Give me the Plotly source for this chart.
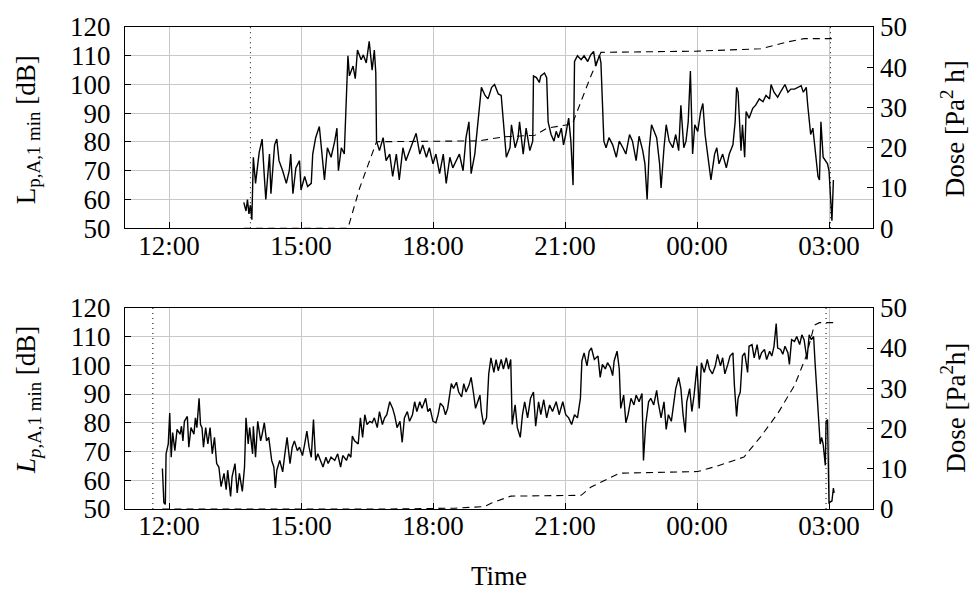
import plotly.graph_objects as go
from datetime import datetime

# ---------------- data ----------------
x_ticks = ["12:00", "15:00", "18:00", "21:00", "00:00", "03:00"]
x_range = ["11:00", "04:00"]
left_ticks = [50, 60, 70, 80, 90, 100, 110, 120]
right_ticks = [0, 10, 20, 30, 40, 50]

top_time = ["13:42","13:45","13:47","13:49","13:51","13:53","13:55","13:58","14:03","14:07",
            "14:10","14:12","14:17","14:19","14:24","14:27","14:30","14:35","14:40","14:44",
            "14:46","14:49","14:53","14:58","15:00","15:05","15:09","15:14","15:16","15:20",
            "15:25","15:29","15:32","15:36","15:41","15:46","15:49","15:51","15:55","15:59",
            "16:00","16:02","16:04","16:06","16:11","16:14","16:17","16:22","16:25","16:29",
            "16:33","16:37","16:40","16:42","16:43","16:47","16:52","16:56","17:01","17:05",
            "17:10","17:14","17:19","17:23","17:28","17:33","17:37","17:42","17:46","17:51",
            "17:55","18:00","18:04","18:09","18:14","18:18","18:23","18:27","18:32","18:36",
            "18:41","18:45","18:49","18:52","18:57","19:00","19:03","19:06","19:11","19:15",
            "19:20","19:24","19:29","19:33","19:36","19:40","19:45","19:47","19:52","19:56",
            "19:58","20:03","20:07","20:12","20:16","20:17","20:21","20:25","20:27","20:32",
            "20:35","20:37","20:41","20:45","20:48","20:51","20:55","20:58","21:01","21:05",
            "21:08","21:11","21:13","21:17","21:22","21:26","21:31","21:35","21:39","21:42",
            "21:47","21:49","21:53","21:56","22:00","22:05","22:10","22:14","22:19","22:23",
            "22:28","22:32","22:37","22:41","22:46","22:49","22:52","22:55","22:58","23:02",
            "23:05","23:09","23:11","23:15","23:18","23:22","23:27","23:31","23:35","23:38",
            "23:42","23:45","23:48","23:51","23:54","23:57","00:01","00:05","00:08","00:11",
            "00:15","00:19","00:24","00:27","00:30","00:35","00:40","00:44","00:49","00:52",
            "00:54","00:56","01:00","01:02","01:05","01:07","01:11","01:16","01:20","01:25",
            "01:30","01:34","01:39","01:41","01:45","01:50","01:55","02:00","02:04","02:08",
            "02:13","02:17","02:22","02:25","02:29","02:31","02:35","02:38","02:41","02:45",
            "02:47","02:49","02:52","02:55","02:58","03:00","03:03","03:04","03:06"]
top_level = [59, 56, 60, 55, 58, 53, 74.7, 65.6, 76.4, 81,
             68, 60, 75.8, 62, 79, 81, 73.5, 70, 65.6, 70,
             75.8, 62, 71, 73.5, 63.3, 68, 64.5, 65.6, 75.8, 81.5,
             85.4, 73.5, 66.8, 78, 74.7, 80.3, 84.8, 70, 78, 75.8,
             83.7, 92, 110, 103, 106.4, 102, 112, 108.6, 110.3, 107.5,
             115, 105, 112, 104, 80.3, 77, 81.5, 73.5, 75.8, 68,
             75.8, 66.8, 78, 73.5, 77, 80.3, 83, 75.8, 79, 74.7,
             78, 72.4, 75.8, 69, 75.8, 65.6, 74.7, 71, 73.5, 75.8,
             70, 81.5, 87, 69, 75.8, 83.7, 89.4, 99, 96.2, 95,
             99, 100, 96.7, 96.2, 87, 74.7, 78, 86, 78, 81.5,
             87, 75.8, 84.8, 77, 80.3, 103, 102.4, 100.7, 103, 104,
             102.4, 87, 82.6, 80.3, 83.7, 81.5, 84.8, 79, 82.6, 88.3,
             80.3, 65, 108, 110, 108.6, 110, 108, 110.3, 111.5, 106.4,
             110.3, 107.5, 80.3, 78, 81.5, 79, 74.7, 80.3, 78, 75.8,
             82.6, 80.3, 73.5, 82, 77, 72.4, 60, 78, 86, 83.7,
             81.5, 72.4, 64, 78, 86, 80.3, 78, 82.6, 77, 92.8,
             78, 80.3, 87, 104.7, 75.8, 86, 83.7, 90.6, 93.4, 82.6,
             74.7, 66.8, 75.8, 78, 72.4, 75.8, 71, 75.8, 79, 87,
             99, 97.3, 77, 86, 74.7, 90.6, 88.3, 91.7, 92.8, 95,
             94, 96.2, 95, 100, 97.3, 95.6, 97.9, 100, 97.3, 98.4,
             98.4, 99, 99.6, 97.3, 99, 92.8, 82.6, 84.8, 77, 68,
             66.8, 87, 74.7, 73.5, 72.4, 70, 53, 52.6, 66.8]

top_dose_time = ["13:42","16:04","16:20","16:43","19:02","19:36","20:19","20:36",
                 "21:10","21:35","21:49","00:00","01:27","02:04","02:26","03:06"]
top_dose = [0, 0, 10, 21.5, 21.7, 22.7, 23.1, 24.9,
            25.9, 37.7, 43.7, 44.0, 44.6, 46.3, 47.1, 47.1]

bot_time = ["11:51","11:53","11:55","11:56","11:59","12:01","12:03","12:05","12:08","12:11",
            "12:15","12:17","12:19","12:21","12:25","12:27","12:30","12:34","12:36","12:38",
            "12:41","12:43","12:45","12:47","12:50","12:53","12:56","12:59","13:02","13:05",
            "13:08","13:11","13:15","13:18","13:20","13:24","13:26","13:30","13:33","13:36",
            "13:40","13:43","13:45","13:48","13:50","13:54","13:55","13:58","14:01","14:05",
            "14:07","14:10","14:13","14:16","14:20","14:23","14:25","14:27","14:31","14:35",
            "14:38","14:41","14:45","14:48","14:51","14:55","14:58","15:02","15:05","15:08",
            "15:11","15:14","15:17","15:20","15:23","15:26","15:30","15:34","15:37","15:41",
            "15:46","15:50","15:54","15:57","16:02","16:05","16:08","16:10","16:13","16:18",
            "16:21","16:24","16:27","16:30","16:34","16:37","16:40","16:44","16:47","16:51",
            "16:54","16:57","17:01","17:05","17:08","17:11","17:15","17:18","17:21","17:25",
            "17:28","17:32","17:35","17:38","17:42","17:45","17:50","17:53","17:56","18:00",
            "18:04","18:07","18:10","18:14","18:17","18:20","18:25","18:28","18:32","18:35",
            "18:39","18:42","18:45","18:49","18:52","18:55","18:58","19:01","19:04","19:06",
            "19:09","19:13","19:16","19:19","19:23","19:26","19:29","19:33","19:36","19:40",
            "19:43","19:46","19:48","19:52","19:55","19:59","20:02","20:05","20:09","20:13",
            "20:17","20:20","20:24","20:27","20:31","20:35","20:39","20:43","20:48","20:52",
            "20:57","21:01","21:05","21:09","21:13","21:17","21:21","21:23","21:26","21:30",
            "21:33","21:36","21:40","21:45","21:48","21:51","21:55","21:58","22:02","22:05",
            "22:07","22:11","22:14","22:16","22:20","22:23","22:26","22:30","22:34","22:37",
            "22:41","22:45","22:47","22:50","22:54","22:57","23:01","23:05","23:07","23:11",
            "23:15","23:18","23:21","23:25","23:28","23:31","23:35","23:38","23:41","23:44",
            "23:46","23:50","23:53","23:56","00:00","00:03","00:06","00:10","00:14","00:17",
            "00:21","00:25","00:28","00:32","00:35","00:38","00:42","00:45","00:49","00:51",
            "00:54","00:56","00:59","01:02","01:05","01:09","01:11","01:15","01:18","01:22",
            "01:25","01:28","01:32","01:35","01:39","01:42","01:45","01:48","01:50","01:54",
            "01:57","02:00","02:04","02:06","02:09","02:13","02:16","02:20","02:23","02:26",
            "02:30","02:33","02:36","02:39","02:41","02:45","02:48","02:50","02:52","02:55",
            "02:56","02:58","03:00","03:04","03:06","03:07"]
bot_level = [64.1, 52.2, 51.6, 69.2, 72.6, 83.4, 68, 76.6, 70.3, 77.7,
             76, 78.8, 73.7, 80.5, 82.2, 71.5, 78.3, 76, 81.7, 78.3,
             88.5, 79.4, 78.3, 71.5, 78.3, 72.6, 78.3, 69.2, 74.9, 65.8,
             64.6, 57.8, 62.4, 56.7, 63.5, 54.4, 61.2, 65.8, 55.6, 62.4,
             56.1, 64.6, 81.7, 72.6, 78.3, 69.2, 78.8, 68, 80.5, 73.7,
             76, 80, 73.7, 74.9, 66.9, 64.6, 57.3, 63.5, 66.9, 62.9,
             69.2, 74.9, 65.8, 71.5, 73.7, 70.3, 71.5, 68.6, 72.6, 77.1,
             71.5, 68, 81.1, 66.9, 69.2, 66.9, 64.6, 68, 65.8, 68,
             66.9, 69.2, 64.6, 68.6, 66.9, 69.2, 68, 75.4, 73.7, 72.6,
             81.7, 74.9, 82.8, 79.4, 80.5, 80, 81.7, 78.3, 83.9, 79.4,
             81.7, 82.8, 87.3, 85, 82.2, 78.3, 80.5, 73.2, 81.7, 83.9,
             80.5, 82.8, 87.3, 83.9, 87.3, 85, 88.5, 83.9, 85, 80.5,
             80, 82.8, 86.8, 85.6, 82.8, 85, 93.6, 91.9, 94.1, 90.7,
             89, 93.6, 90.7, 93, 95.8, 90.7, 85, 87.3, 89.6, 83.9,
             79.4, 81.7, 97, 102.6, 97.5, 102, 98.1, 102, 98.7, 102.6,
             98.7, 102, 79.4, 86.2, 78.3, 74.9, 82.8, 87.3, 81.7, 88.5,
             90.7, 78.8, 87.3, 82.8, 88, 81.7, 86.2, 83.9, 87.3, 82.8,
             87.3, 82.8, 81.7, 79.4, 82.8, 81.7, 88.5, 101.5, 104.3, 99.8,
             104.9, 106, 102, 103.2, 95.8, 100.3, 98.7, 100.9, 99.2, 96.4,
             101.5, 104.9, 98.7, 85, 89.6, 80, 82.8, 88.5, 86.2, 89.6,
             87.3, 90.2, 66.9, 79.4, 87.3, 88.5, 86.2, 91.3, 87.3, 81.7,
             87.3, 77.7, 82.8, 80.5, 87.3, 91.9, 95.8, 91.9, 82.8, 76.6,
             87.3, 91.9, 83.9, 89.6, 99.8, 85, 100.9, 97.5, 102, 98.7,
             97, 99.8, 103.8, 99.8, 102.6, 97, 100.3, 103.2, 104.3, 93,
             82.2, 88.5, 90.7, 103.2, 104.3, 97.5, 106.6, 107.2, 102.6, 107.2,
             102, 104.3, 105.5, 102, 104.9, 103.2, 106.6, 114.5, 106, 105.5,
             103.8, 106.6, 104.3, 100.3, 108.9, 108.3, 110, 107.2, 110.6, 108.9,
             102, 110.6, 108.9, 110, 100.9, 84.5, 72.6, 74.9, 72.6, 65.2,
             80.5, 81.1, 52.2, 52.8, 57.3, 55.6]

bot_dose_time = ["11:51","17:00","18:30","19:10","19:20","19:46","21:22","21:35","22:14","00:01",
                 "00:28","01:04","01:27","01:50","02:13","02:29","02:40","02:47","03:08"]
bot_dose = [0, 0, 0.2, 0.6, 1.5, 3.2, 3.4, 5.4, 8.9, 9.3,
            10.7, 12.9, 18.0, 23.7, 30.7, 38.0, 45.7, 46.3, 46.3]

top_marks = ["13:51", "03:02"]
bot_marks = ["11:38", "02:56"]


def to_dt(hhmm):
    h, m = map(int, hhmm.split(":"))
    day = 1 if h >= 11 else 2
    return datetime(2023, 1, day, h, m)


def conv(lst):
    return [to_dt(t) for t in lst]


FONT = dict(family="Liberation Serif", size=27, color="black")
GRID = "#c8c8c8"

fig = go.Figure()
fig.add_trace(go.Scatter(x=conv(top_time), y=top_level, mode="lines",
                         line=dict(color="black", width=1.4), xaxis="x", yaxis="y"))
fig.add_trace(go.Scatter(x=conv(top_dose_time), y=top_dose, mode="lines",
                         line=dict(color="black", width=1.1, dash="7px,5px"), xaxis="x", yaxis="y2"))
fig.add_trace(go.Scatter(x=conv(bot_time), y=bot_level, mode="lines",
                         line=dict(color="black", width=1.4), xaxis="x2", yaxis="y3"))
fig.add_trace(go.Scatter(x=conv(bot_dose_time), y=bot_dose, mode="lines",
                         line=dict(color="black", width=1.1, dash="7px,5px"), xaxis="x2", yaxis="y4"))

shapes = []
for t in top_marks:
    shapes.append(dict(type="line", xref="x", yref="y domain", x0=to_dt(t), x1=to_dt(t),
                       y0=0, y1=1, line=dict(color="black", width=1, dash="1px,4px")))
for t in bot_marks:
    shapes.append(dict(type="line", xref="x2", yref="y3 domain", x0=to_dt(t), x1=to_dt(t),
                       y0=0, y1=1, line=dict(color="black", width=1, dash="1px,4px")))

xr = [to_dt(x_range[0]), datetime(2023, 1, 2, 4, 0)]
xtv = conv(x_ticks)

xaxis_common = dict(type="date", range=xr, tickvals=xtv, ticktext=x_ticks,
                    showline=True, linecolor="black", linewidth=1, mirror=True,
                    ticks="inside", ticklen=6, tickcolor="black",
                    showgrid=True, gridcolor=GRID, gridwidth=1, zeroline=False,
                    tickfont=FONT, ticklabelstandoff=-7)
yleft_common = dict(range=[50, 120], tickvals=left_ticks,
                    showline=True, linecolor="black", linewidth=1, mirror=True,
                    ticks="inside", ticklen=6, tickcolor="black",
                    showgrid=True, gridcolor=GRID, gridwidth=1, zeroline=False,
                    tickfont=FONT, ticklabelstandoff=8)
yright_common = dict(range=[0, 50], tickvals=right_ticks, side="right",
                     showline=False, ticks="inside", ticklen=6, tickcolor="black",
                     showgrid=False, zeroline=False, tickfont=FONT, ticklabelstandoff=6)

top_dom = [0.5825, 1.0]
bot_dom = [0.0, 0.4175]

fig.update_layout(
    width=971, height=591,
    margin=dict(l=125, r=98, t=18, b=82),
    paper_bgcolor="white", plot_bgcolor="white",
    showlegend=False,
    font=FONT,
    xaxis=dict(**xaxis_common, anchor="y", domain=[0, 1]),
    yaxis=dict(**yleft_common, anchor="x", domain=top_dom),
    yaxis2=dict(**yright_common, anchor="x", overlaying="y"),
    xaxis2=dict(**xaxis_common, anchor="y3", domain=[0, 1]),
    yaxis3=dict(**yleft_common, anchor="x2", domain=bot_dom),
    yaxis4=dict(**yright_common, anchor="x2", overlaying="y3"),
    shapes=shapes,
    annotations=[
        dict(text="L<sub>p,A,1 min</sub> [dB]", xref="paper", yref="paper",
             x=-0.1297, y=0.788, textangle=-90, showarrow=False,
             xanchor="center", yanchor="middle", font=FONT),
        dict(text="<i>L</i><sub><i>p</i>,A,1 min</sub> [dB]", xref="paper", yref="paper",
             x=-0.1297, y=0.226, textangle=-90, showarrow=False,
             xanchor="center", yanchor="middle", font=FONT),
        dict(text="Dose [Pa<sup>2</sup> h]", xref="paper", yref="paper",
             x=1.1070, y=0.788, textangle=-90, showarrow=False,
             xanchor="center", yanchor="middle", font=FONT),
        dict(text="Dose [Pa<sup>2</sup>h]", xref="paper", yref="paper",
             x=1.1070, y=0.210, textangle=-90, showarrow=False,
             xanchor="center", yanchor="middle", font=FONT),
        dict(text="Time", xref="paper", yref="paper", x=0.5, y=-0.1385,
             showarrow=False, xanchor="center", yanchor="middle", font=FONT),
    ],
)

fig.write_html("out.html")
